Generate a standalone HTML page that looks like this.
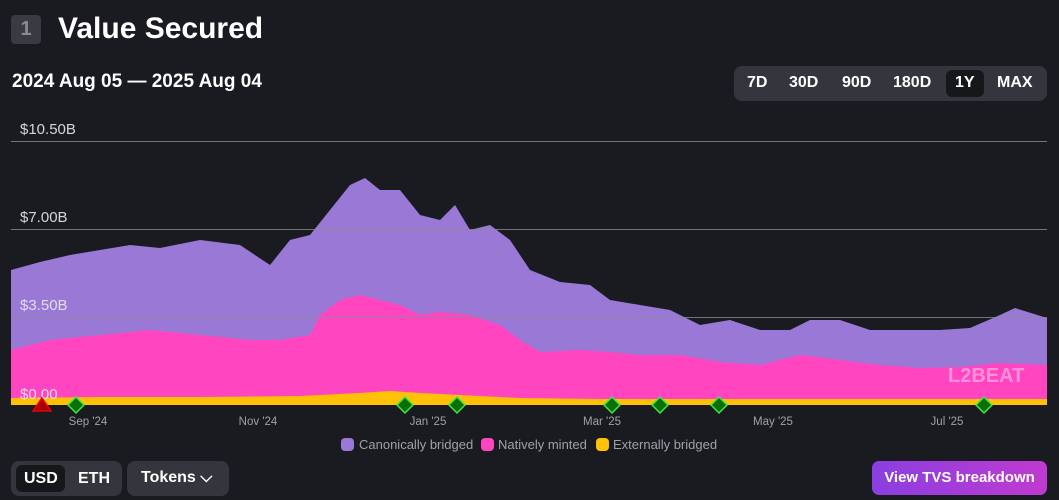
<!DOCTYPE html>
<html><head><meta charset="utf-8"><style>
body{margin:0;width:1059px;height:500px;background:#1a1b20;font-family:"Liberation Sans",sans-serif;color:#fff;overflow:hidden;position:relative}
.a{position:absolute}
.btn{font-weight:bold;font-size:16px}
</style></head><body>
<div class="a" style="left:11px;top:15px;width:30px;height:29px;background:#3a3b42;border-radius:4px;color:#8a8b92;font-size:20px;font-weight:bold;text-align:center;line-height:29px">1</div>
<div class="a" style="left:58px;top:12px;font-size:30px;font-weight:bold">Value Secured</div>
<div class="a" style="left:12px;top:71px;font-size:19px;font-weight:bold">2024 Aug 05 — 2025 Aug 04</div>
<div class="a" style="left:734px;top:66px;width:313px;height:35px;background:#35363d;border-radius:8px"></div>
<div class="a" style="left:946px;top:70px;width:38px;height:27px;background:#16171b;border-radius:6px"></div>
<div class="a btn" style="top:74px;left:747px">7D</div>
<div class="a btn" style="top:74px;left:789px">30D</div>
<div class="a btn" style="top:74px;left:842px">90D</div>
<div class="a btn" style="top:74px;left:893px">180D</div>
<div class="a btn" style="top:74px;left:955px">1Y</div>
<div class="a btn" style="top:74px;left:997px">MAX</div>
<svg class="a" style="left:0;top:0" width="1059" height="500">
<polygon fill="#9a79d6" points="11,405 11,270 40,262 70,255 100,250 130,245 160,248 200,240 240,245 270,265 290,240 310,235 330,210 350,185 365,178 380,190 400,190 420,215 440,220 455,205 470,230 490,225 510,240 530,270 560,282 590,285 610,300 640,305 670,310 700,325 730,320 760,330 790,330 810,320 840,320 870,330 900,330 940,330 970,328 1000,315 1015,308 1047,318 1047,405"/>
<polygon fill="#ff46c0" points="11,405 11,350 50,340 100,335 150,330 200,335 250,340 280,340 310,335 320,315 340,300 360,295 380,300 400,305 420,315 440,312 470,315 500,325 520,340 540,352 580,350 610,352 640,355 680,355 720,362 760,365 800,355 840,360 880,365 920,368 960,367 1000,363 1047,365 1047,405"/>
<polygon fill="#ffc107" points="11,405 11,398 100,397 200,397 300,396 360,393 390,391 420,393 460,395 520,398 600,399 700,399 800,399 900,399 1047,399 1047,405"/>
<g stroke="#8a8b92" stroke-width="1" opacity="0.8"><line x1="11" x2="1047" y1="141.5" y2="141.5"/><line x1="11" x2="1047" y1="229.5" y2="229.5"/><line x1="11" x2="1047" y1="317.5" y2="317.5"/></g>
<g fill="#e8e8ec" opacity="0.9" font-size="15"><text x="20" y="134">$10.50B</text><text x="20" y="222">$7.00B</text><text x="20" y="310">$3.50B</text><text x="20" y="399">$0.00</text></g>
<text x="948" y="382" font-size="20" font-weight="bold" fill="#fff" opacity="0.4">L2BEAT</text>
<polygon points="42,398 51,411 33,411" fill="#a00" stroke="#e00" stroke-width="1.5"/>
<g fill="#0a6e0a" stroke="#3ee83e" stroke-width="1.5">
<polygon points="76,397 84,405 76,413 68,405"/><polygon points="405,397 413,405 405,413 397,405"/><polygon points="457,397 465,405 457,413 449,405"/><polygon points="612,397 620,405 612,413 604,405"/><polygon points="660,397 668,405 660,413 652,405"/><polygon points="719,397 727,405 719,413 711,405"/><polygon points="984,397 992,405 984,413 976,405"/></g>
<g fill="#a0a1a8" font-size="11.5" text-anchor="middle"><text x="88" y="425">Sep '24</text><text x="258" y="425">Nov '24</text><text x="428" y="425">Jan '25</text><text x="602" y="425">Mar '25</text><text x="773" y="425">May '25</text><text x="947" y="425">Jul '25</text></g>
<g font-size="13" fill="#a0a1a8"><rect x="341" y="438" width="13" height="13" rx="4" fill="#9a79d6"/><text x="359" y="449">Canonically bridged</text>
<rect x="481" y="438" width="13" height="13" rx="4" fill="#ff46c0"/><text x="498" y="449">Natively minted</text>
<rect x="596" y="438" width="13" height="13" rx="4" fill="#ffc107"/><text x="613" y="449">Externally bridged</text></g>
</svg>
<div class="a" style="left:11px;top:461px;width:111px;height:35px;background:#35363d;border-radius:8px"></div>
<div class="a" style="left:16px;top:465px;width:49px;height:27px;background:#16171b;border-radius:6px"></div>
<div class="a btn" style="left:24px;top:470px">USD</div>
<div class="a btn" style="left:78px;top:470px">ETH</div>
<div class="a" style="left:127px;top:461px;width:102px;height:35px;background:#35363d;border-radius:8px"></div>
<div class="a btn" style="left:141px;top:469px">Tokens ⌵</div>
<div class="a" style="left:872px;top:461px;width:175px;height:34px;background:linear-gradient(90deg,#8a3fe0,#c03ad0);border-radius:7px;font-weight:bold;font-size:15px;text-align:center;line-height:34px">View TVS breakdown</div>
</body></html>
